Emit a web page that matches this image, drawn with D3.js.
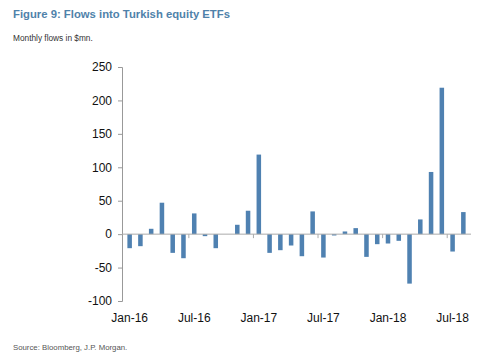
<!DOCTYPE html>
<html>
<head>
    <meta charset="utf-8">
    <script src="https://d3js.org/d3.v7.min.js"></script>
    <style>
        body { margin: 0; background: #fff; font-family: "Liberation Sans", Arial, sans-serif; }
        .title { font-size: 11.3px; font-weight: bold; fill: #4f82aa; }
        .sub { font-size: 8.3px; fill: #333; }
        .source { font-size: 7.8px; fill: #555; }
        .axis text { font-size: 12px; fill: #111; font-family: "Liberation Sans", Arial, sans-serif; }
        .bar { fill: #4f81b1; }
    </style>
</head>
<body>
<script>
    // monthly flows, Jan-16 .. Aug-18 ($mn)
    var months = ["Jan-16","Feb-16","Mar-16","Apr-16","May-16","Jun-16","Jul-16","Aug-16","Sep-16","Oct-16","Nov-16","Dec-16",
                  "Jan-17","Feb-17","Mar-17","Apr-17","May-17","Jun-17","Jul-17","Aug-17","Sep-17","Oct-17","Nov-17","Dec-17",
                  "Jan-18","Feb-18","Mar-18","Apr-18","May-18","Jun-18","Jul-18","Aug-18"];
    var flows = [-21, -18, 8, 47, -28, -36, 31, -3, -21, 0, 14, 35,
                 119, -28, -24, -17, -33, 34, -35, -2, 4, 9, -34, -15,
                 -14, -10, -74, 22, 93, 219, -26, 33];
    var yTicks = [-100, -50, 0, 50, 100, 150, 200, 250];
    var xLabels = ["Jan-16", "Jul-16", "Jan-17", "Jul-17", "Jan-18", "Jul-18"];

    var W = 500, H = 354;
    var margin = {top: 67, left: 122, right: 29, bottom: 53};
    var width = W - margin.left - margin.right,
        height = H - margin.top - margin.bottom;

    var svg = d3.select("body").append("svg")
        .attr("width", W)
        .attr("height", H);

    svg.append("text").attr("class", "title").attr("x", 13).attr("y", 18)
        .text("Figure 9: Flows into Turkish equity ETFs");
    svg.append("text").attr("class", "sub").attr("x", 13).attr("y", 41)
        .text("Monthly flows in $mn.");
    svg.append("text").attr("class", "source").attr("x", 13).attr("y", 350)
        .text("Source: Bloomberg, J.P. Morgan.");

    var g = svg.append("g")
        .attr("transform", "translate(" + margin.left + "," + margin.top + ")");

    var x = d3.scaleBand().domain(months).range([0, width]).paddingInner(0.58).paddingOuter(0.5);
    var y = d3.scaleLinear().domain([-100, 250]).range([height, 0]);

    g.selectAll(".bar")
        .data(flows)
        .enter().append("rect")
        .attr("class", "bar")
        .attr("x", function(d, i) { return x(months[i]); })
        .attr("width", x.bandwidth())
        .attr("y", function(d) { return y(Math.max(0, d)); })
        .attr("height", function(d) { return Math.abs(y(d) - y(0)); });

    // y axis
    var yAxis = g.append("g").attr("class", "axis")
        .call(d3.axisLeft(y).tickValues(yTicks).tickSize(4).tickPadding(6)
            .tickFormat(function(d) { return String(d); }));
    yAxis.select(".domain").attr("stroke", "#999");
    yAxis.selectAll(".tick line").attr("stroke", "#999");

    // zero line with tick marks every 6 months
    var step = x.step();
    g.append("line")
        .attr("x1", 0).attr("x2", width)
        .attr("y1", y(0)).attr("y2", y(0))
        .attr("stroke", "#aaa");
    g.selectAll(".xtick")
        .data(xLabels.slice(1))
        .enter().append("line")
        .attr("x1", function(d) { return x(d) + x.bandwidth() / 2 - step / 2; })
        .attr("x2", function(d) { return x(d) + x.bandwidth() / 2 - step / 2; })
        .attr("y1", y(0)).attr("y2", y(0) + 4)
        .attr("stroke", "#aaa");

    // x labels at bottom
    g.append("g").attr("class", "axis")
        .selectAll("text")
        .data(xLabels)
        .enter().append("text")
        .attr("x", function(d) { return x(d) + x.bandwidth() / 2; })
        .attr("y", height + 21)
        .attr("text-anchor", "middle")
        .text(function(d) { return d; });
</script>
</body>
</html>
